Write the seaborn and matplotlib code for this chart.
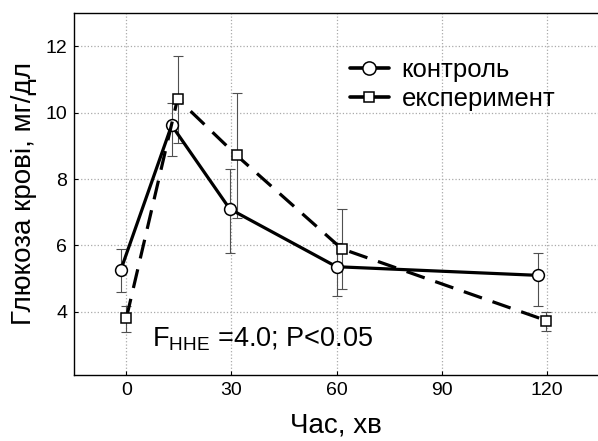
import matplotlib
matplotlib.use("Agg")
import matplotlib.pyplot as plt
import seaborn as sns
import pandas as pd

# ---- data ----
time_ctrl = [-1.6, 12.9, 29.5, 60.0, 117.6]
gluc_ctrl = [5.27, 9.62, 7.10, 5.36, 5.10]
err_lo_ctrl = [4.60, 8.70, 5.78, 4.48, 4.17]
err_hi_ctrl = [5.88, 10.30, 8.29, 6.07, 5.78]

time_exp = [0.0, 14.6, 31.5, 61.5, 119.9]
gluc_exp = [3.83, 10.42, 8.71, 5.90, 3.74]
err_lo_exp = [3.40, 9.10, 6.82, 4.68, 3.42]
err_hi_exp = [4.19, 11.72, 10.59, 7.09, 4.01]

x_ticks = [0, 30, 60, 90, 120]
y_ticks = [4, 6, 8, 10, 12]

label_ctrl = "контроль"
label_exp = "експеримент"

sns.set_style("white")
plt.rcParams["font.family"] = ["Liberation Sans", "DejaVu Sans"]
plt.rcParams["mathtext.fontset"] = "custom"
plt.rcParams["mathtext.rm"] = "Liberation Sans"
plt.rcParams["mathtext.it"] = "Liberation Sans"
plt.rcParams["text.color"] = "black"
plt.rcParams["axes.labelcolor"] = "black"

df = pd.concat([
    pd.DataFrame({"time": time_ctrl, "glucose": gluc_ctrl, "group": label_ctrl}),
    pd.DataFrame({"time": time_exp, "glucose": gluc_exp, "group": label_exp}),
])

fig = plt.figure(figsize=(5.98, 4.41), dpi=100)
ax = fig.add_axes([0.1237, 0.1497, 0.8763, 0.8208])

# error bars (grey, thin, capped)
for t, g, lo, hi in [(time_ctrl, gluc_ctrl, err_lo_ctrl, err_hi_ctrl),
                     (time_exp, gluc_exp, err_lo_exp, err_hi_exp)]:
    yerr = [[gi - l for gi, l in zip(g, lo)], [h - gi for gi, h in zip(g, hi)]]
    ax.errorbar(t, g, yerr=yerr, fmt="none", ecolor="#505050", elinewidth=0.8,
                capsize=3.8, capthick=0.8, zorder=2)

sns.lineplot(data=df, x="time", y="glucose", style="group", sort=False,
             markers={label_ctrl: "o", label_exp: "s"},
             dashes={label_ctrl: "", label_exp: (6, 3.5)},
             color="black", linewidth=2.3, markersize=8.5,
             markerfacecolor="white", markeredgecolor="black", markeredgewidth=1.1,
             ax=ax, zorder=3)

# squares are a bit smaller than the circles in the reference
for line in ax.get_lines():
    if line.get_marker() == "s":
        line.set_markersize(6.8)

ax.set_xlim(-15, 134.7)
ax.set_ylim(2.1, 13.0)
ax.set_xticks(x_ticks)
ax.set_yticks(y_ticks)
ax.tick_params(labelsize=14, direction="in", length=3, width=0.8, pad=5,
               left=True, bottom=True, colors="black")
ax.grid(True, linestyle=":", color="#aaaaaa", linewidth=0.9)
for side in ["left", "bottom", "top"]:
    ax.spines[side].set_color("black")
    ax.spines[side].set_linewidth(1.0)
ax.spines["right"].set_visible(False)

ax.set_xlabel("Час, хв", fontsize=20, labelpad=10)
ax.set_ylabel("Глюкоза крові, мг/дл", fontsize=20, labelpad=6)

ax.text(7.3, 2.955, r"F$_{\mathrm{HHE}}$ =4.0; P<0.05", fontsize=19.5,
        ha="left", va="baseline")

leg = ax.legend(loc="upper left", bbox_to_anchor=(0.527, 0.876), frameon=False,
                fontsize=18.5, handlelength=1.5, handletextpad=0.5,
                labelspacing=0.18, borderaxespad=0, borderpad=0)
for h in leg.legend_handles:
    h.set_linewidth(2.6)
    h.set_markersize(9.5 if h.get_marker() == "o" else 7.5)
    h.set_linestyle("-")

fig.savefig("out.png", dpi=100)
